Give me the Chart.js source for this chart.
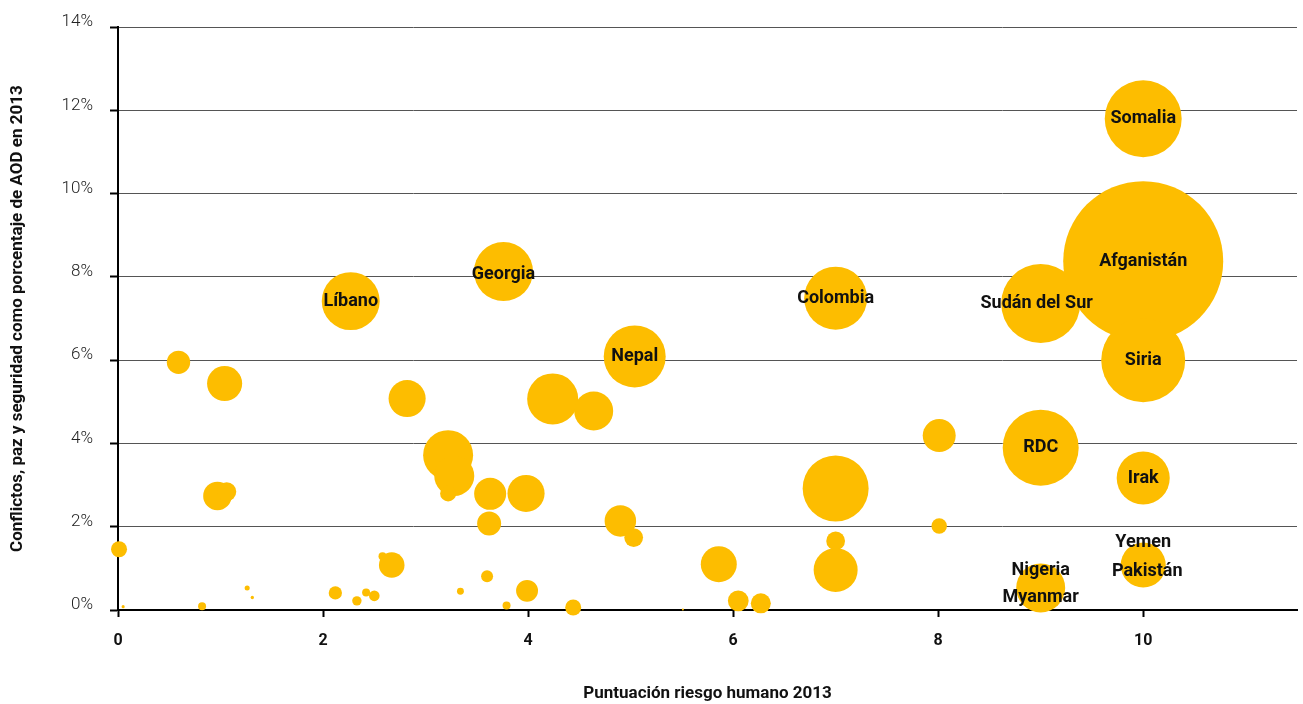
<!DOCTYPE html>
<html lang="es">
<head>
<meta charset="utf-8">
<title>Conflictos, paz y seguridad vs riesgo humano 2013</title>
<script src="https://cdn.jsdelivr.net/npm/chart.js@4/dist/chart.umd.min.js"></script>
<style>
  html, body { margin: 0; padding: 0; background: #fff; }
  #wrap { width: 1303px; height: 704px; }
</style>
</head>
<body>
<div id="wrap"><canvas id="riesgoChart" width="1303" height="704"></canvas></div>
<script>
// Datos: país (vacío si no lleva nombre), puntuación de riesgo,
// % de AOD para conflictos, paz y seguridad, y volumen de AOD (tamaño de burbuja)
const paises = [
  'Somalia', 'Sudán del Sur', 'Afganistán', 'Siria', 'RDC', 'Irak', 'Yemen', 'Pakistán',
  'Nigeria', 'Myanmar', 'Colombia', 'Nepal', 'Georgia', 'Líbano',
  '', '', '', '', '', '', '', '', '', '', '', '', '', '', '', '', '', '', '', '',
  '', '', '', '', '', '', '', '', '', '', '', '', '', '', '', '', '', '', '', ''
];
const riesgo = [
  10, 9, 10, 10, 9, 10, 10, 10,
  9, 9, 7, 5.04, 3.76, 2.27,
  2.82, 4.24, 4.64, 3.22, 3.28, 3.22, 3.63, 3.98, 3.62, 4.9, 5.03, 3.6, 3.34, 3.99, 3.79, 4.44, 5.51, 5.86, 6.05, 6.27,
  7.0, 7.0, 7.0, 0.01, 0.05, 0.82, 1.26, 1.31, 2.12, 2.33, 2.42, 2.5, 2.58, 2.67, 0.97, 1.06, 0.59, 1.04, 8.01, 8.01
];
const porcentajeAOD = [
  11.8, 7.36, 8.38, 6.0, 3.9, 3.17, 1.08, 1.08,
  0.53, 0.53, 7.49, 6.09, 8.13, 7.42,
  5.08, 5.07, 4.78, 3.72, 3.22, 2.8, 2.79, 2.8, 2.08, 2.14, 1.74, 0.81, 0.45, 0.46, 0.11, 0.06, 0.01, 1.1, 0.22, 0.16,
  2.92, 1.66, 0.96, 1.46, 0.08, 0.09, 0.53, 0.3, 0.41, 0.22, 0.42, 0.34, 1.29, 1.08, 2.74, 2.84, 5.95, 5.44, 4.19, 2.02
];
const volumenAOD = [
  370, 390, 1600, 441, 361, 176, 81, 127,
  100, 150, 248, 240, 218, 210,
  86, 163, 95, 156, 100, 16, 64, 86, 36, 62, 22, 9, 3, 30, 4, 16, 0.25, 81, 27, 25,
  272, 22, 121, 16, 0.6, 4, 1.6, 0.7, 11, 5.5, 4, 7, 4, 41, 51, 23, 34, 77, 68, 15
];
const ticksX = [0, 2, 4, 6, 8, 10];

const amarillo = '#FDBD00';
const fuente = 'Roboto, "Open Sans", sans-serif';

// desplazamiento de algunas etiquetas respecto al centro de su burbuja
const ajusteEtiqueta = {
  'Yemen': { dx: 0, dy: -23 },
  'Pakistán': { dx: 4, dy: 6 },
  'Nigeria': { dx: 0, dy: -17 },
  'Myanmar': { dx: 0, dy: 10 },
  'Sudán del Sur': { dx: -4, dy: 0 },
  'Georgia': { dx: 0, dy: 3 }
};

const puntos = riesgo.map((x, i) => ({
  x: x,
  y: porcentajeAOD[i],
  r: 2 * Math.sqrt(volumenAOD[i]),
  pais: paises[i]
}));

// dibuja el nombre de cada país encima de su burbuja
const etiquetasPlugin = {
  id: 'etiquetasPaises',
  afterDatasetsDraw(chart) {
    const ctx = chart.ctx;
    const meta = chart.getDatasetMeta(0);
    ctx.save();
    ctx.font = 'bold 18px ' + fuente;
    ctx.fillStyle = '#111';
    ctx.textAlign = 'center';
    ctx.textBaseline = 'middle';
    meta.data.forEach((el, i) => {
      const nombre = paises[i];
      if (!nombre) return;
      const aj = ajusteEtiqueta[nombre] || { dx: 0, dy: 0 };
      ctx.fillText(nombre, el.x + aj.dx, el.y + aj.dy);
    });
    ctx.restore();
  }
};

const ctx = document.getElementById('riesgoChart').getContext('2d');
new Chart(ctx, {
  type: 'bubble',
  data: {
    datasets: [{
      data: puntos,
      backgroundColor: amarillo,
      borderWidth: 0,
      hoverRadius: 0,
      clip: false
    }]
  },
  options: {
    responsive: false,
    animation: false,
    devicePixelRatio: 1,
    layout: { autoPadding: false, padding: { top: 26, right: 6, left: 0, bottom: 0 } },
    plugins: {
      legend: { display: false },
      tooltip: { enabled: false }
    },
    scales: {
      x: {
        type: 'linear',
        min: 0,
        max: 11.5,
        afterFit: (scale) => { scale.height = 94; },
        afterBuildTicks: (scale) => { scale.ticks = ticksX.map(v => ({ value: v })); },
        ticks: {
          includeBounds: false,
          padding: 14,
          color: '#111',
          font: { family: fuente, size: 16, weight: 'bold' }
        },
        grid: {
          drawOnChartArea: false,
          drawTicks: true,
          tickLength: 7,
          tickWidth: 2,
          tickColor: '#000'
        },
        border: { color: '#000', width: 2 },
        title: {
          display: true,
          text: 'Puntuación riesgo humano 2013',
          color: '#111',
          font: { family: fuente, size: 17, weight: 'bold' },
          padding: { top: 0, bottom: 0 }
        }
      },
      y: {
        min: 0,
        max: 14,
        afterFit: (scale) => { scale.width = 118; },
        ticks: {
          stepSize: 2,
          padding: 17,
          labelOffset: -5,
          color: '#222',
          font: { family: fuente, size: 17, weight: '300' },
          callback: (v) => v + '%'
        },
        grid: {
          color: '#555',
          lineWidth: 1,
          drawTicks: true,
          tickLength: 8,
          tickWidth: 2,
          tickColor: '#000'
        },
        border: { color: '#000', width: 2 },
        title: {
          display: true,
          text: 'Conflictos, paz y seguridad como porcentaje de AOD en 2013',
          color: '#111',
          font: { family: fuente, size: 17, weight: 'bold' },
          padding: { top: 8, bottom: 0 }
        }
      }
    }
  },
  plugins: [etiquetasPlugin]
});
</script>
</body>
</html>
